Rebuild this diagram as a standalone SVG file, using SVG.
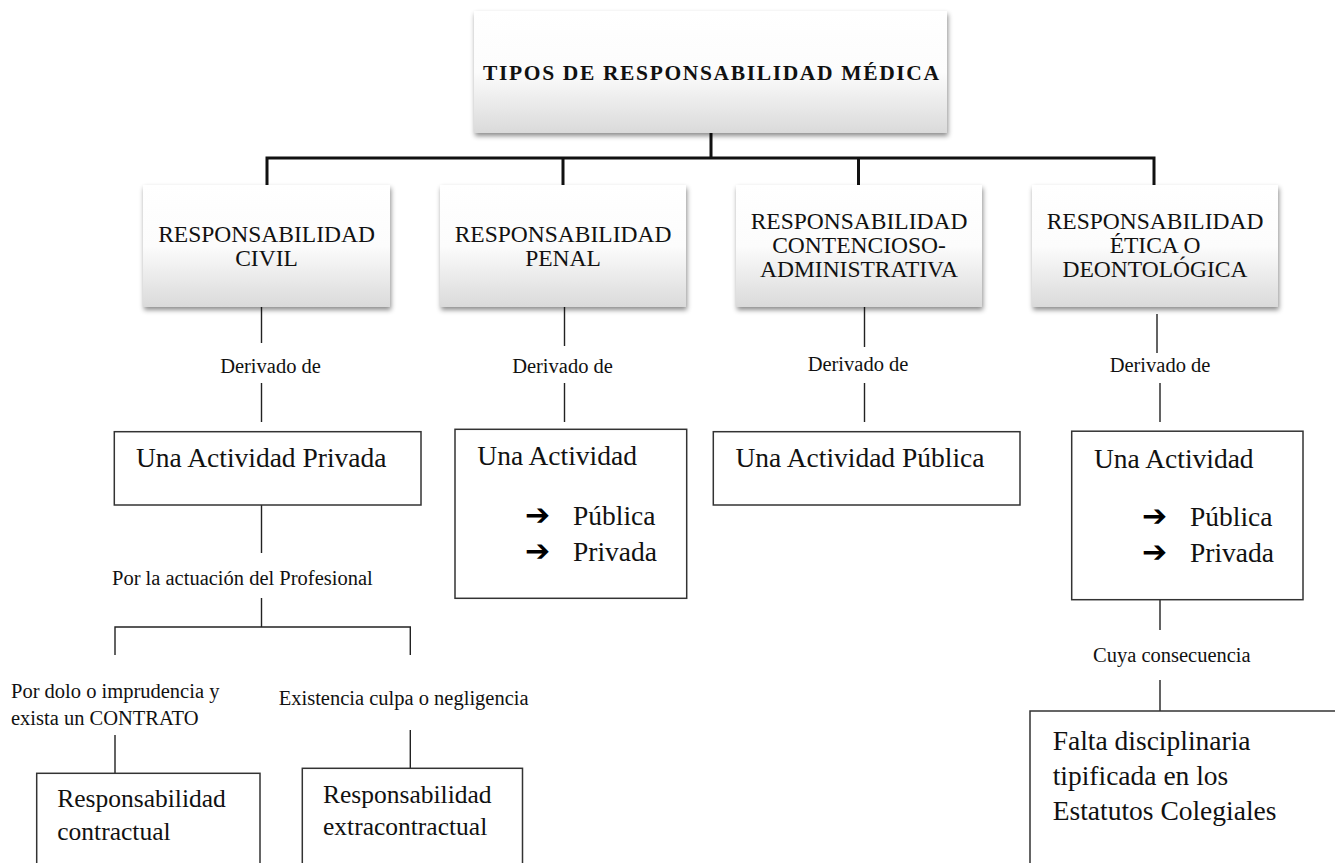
<svg xmlns="http://www.w3.org/2000/svg" width="1335" height="863" viewBox="0 0 1335 863">
<defs>
<linearGradient id="g" x1="0" y1="0" x2="0" y2="1">
<stop offset="0" stop-color="#ffffff"/>
<stop offset="0.5" stop-color="#fcfcfc"/>
<stop offset="1" stop-color="#dadada"/>
</linearGradient>
<filter id="sh" x="-10%" y="-10%" width="120%" height="130%">
<feDropShadow dx="1" dy="3" stdDeviation="2.5" flood-color="#000" flood-opacity="0.45"/>
</filter>
</defs>
<style>
text{font-family:"Liberation Serif","Times New Roman",serif;fill:#111}
.hdr{fill:url(#g);filter:url(#sh);stroke:none}
.cap{font-size:23.5px;text-anchor:middle}
.lbl{font-size:20.5px}
.box{fill:#fff;stroke:#333;stroke-width:1.5}
.big{font-size:27.5px}
.mid{font-size:25.5px}
.arr{font-family:"DejaVu Sans",sans-serif;font-weight:bold;font-size:30px;fill:#000}
.thick{stroke:#111;stroke-width:3;fill:none}
.thin{stroke:#222;stroke-width:1.4;fill:none}
</style>
<rect width="1335" height="863" fill="#fff"/>

<g id="connectors">
<path class="thick" d="M711 133V158M266.5 158H1155M267 156.5V185M563 156.5V185M858.5 156.5V185M1154 156.5V185"/>
<path class="thin" d="M261.5 307V343M261.5 383V422M564.5 307V346M564.5 383V422M864.5 307V347M864.5 383V422M1157 314V353M1160 383V422"/>
<path class="thin" d="M261.5 505V553M261.5 598V627M115 655V627H410.3V655M115 735V773.3M410.3 730V768.3"/>
<path class="thin" d="M1160 600V630M1160 680V711"/>
</g>

<g id="n-root">
<rect class="hdr" x="474" y="11" width="473" height="122"/>
<text x="711" y="80" font-size="21.5" font-weight="bold" text-anchor="middle" textLength="456" lengthAdjust="spacing">TIPOS DE RESPONSABILIDAD MÉDICA</text>
</g>

<g id="n-civil">
<rect class="hdr" x="143" y="185" width="247" height="122"/>
<text class="cap" x="266.5" y="241.7">RESPONSABILIDAD</text>
<text class="cap" x="266.5" y="265.7">CIVIL</text>
</g>
<g id="n-penal">
<rect class="hdr" x="440" y="185" width="246" height="122"/>
<text class="cap" x="563" y="241.7">RESPONSABILIDAD</text>
<text class="cap" x="563" y="265.7">PENAL</text>
</g>
<g id="n-contencioso">
<rect class="hdr" x="736" y="185" width="246" height="122"/>
<text class="cap" x="859" y="229">RESPONSABILIDAD</text>
<text class="cap" x="859" y="253">CONTENCIOSO-</text>
<text class="cap" x="859" y="277">ADMINISTRATIVA</text>
</g>
<g id="n-etica">
<rect class="hdr" x="1032" y="185" width="246" height="122"/>
<text class="cap" x="1155" y="229">RESPONSABILIDAD</text>
<text class="cap" x="1155" y="253">ÉTICA O</text>
<text class="cap" x="1155" y="277">DEONTOLÓGICA</text>
</g>

<g id="labels">
<text class="lbl" x="270.5" y="372.7" text-anchor="middle">Derivado de</text>
<text class="lbl" x="562.5" y="372.7" text-anchor="middle">Derivado de</text>
<text class="lbl" x="858" y="371" text-anchor="middle">Derivado de</text>
<text class="lbl" x="1160" y="371.5" text-anchor="middle">Derivado de</text>
<text class="lbl" x="112" y="585">Por la actuación del Profesional</text>
<text class="lbl" x="11" y="698">Por dolo o imprudencia y</text>
<text class="lbl" x="11" y="725">exista un CONTRATO</text>
<text class="lbl" x="278.7" y="705">Existencia culpa o negligencia</text>
<text class="lbl" x="1093" y="662">Cuya consecuencia</text>
</g>

<g id="n-privada">
<rect class="box" x="114.3" y="431.7" width="306.7" height="73.3"/>
<text class="big" x="136" y="466.7">Una Actividad Privada</text>
</g>
<g id="n-penal-act">
<rect class="box" x="455" y="429.3" width="231.7" height="169"/>
<text class="big" x="477.3" y="465">Una Actividad</text>
<text class="big" y="524.5"><tspan class="arr" x="525">➔</tspan><tspan x="573">Pública</tspan></text>
<text class="big" y="560.5"><tspan class="arr" x="525">➔</tspan><tspan x="573">Privada</tspan></text>
</g>
<g id="n-publica">
<rect class="box" x="713.3" y="431.7" width="306.7" height="73.3"/>
<text class="big" x="735.5" y="466.7">Una Actividad Pública</text>
</g>
<g id="n-etica-act">
<rect class="box" x="1071.7" y="431.2" width="231.3" height="168.5"/>
<text class="big" x="1094" y="467.5">Una Actividad</text>
<text class="big" y="525.5"><tspan class="arr" x="1142">➔</tspan><tspan x="1190">Pública</tspan></text>
<text class="big" y="561.5"><tspan class="arr" x="1142">➔</tspan><tspan x="1190">Privada</tspan></text>
</g>
<g id="n-contractual">
<rect class="box" x="36.7" y="773.3" width="223.3" height="130"/>
<text class="mid" x="57.3" y="806.7">Responsabilidad</text>
<text class="mid" x="57.3" y="840">contractual</text>
</g>
<g id="n-extracontractual">
<rect class="box" x="302.3" y="768.3" width="220.2" height="130"/>
<text class="mid" x="323" y="803">Responsabilidad</text>
<text class="mid" x="323" y="835">extracontractual</text>
</g>
<g id="n-falta">
<rect class="box" x="1030" y="711" width="340" height="200"/>
<text class="big" x="1052.7" y="750">Falta disciplinaria</text>
<text class="big" x="1052.7" y="785">tipificada en los</text>
<text class="big" x="1052.7" y="820">Estatutos Colegiales</text>
</g>
</svg>
